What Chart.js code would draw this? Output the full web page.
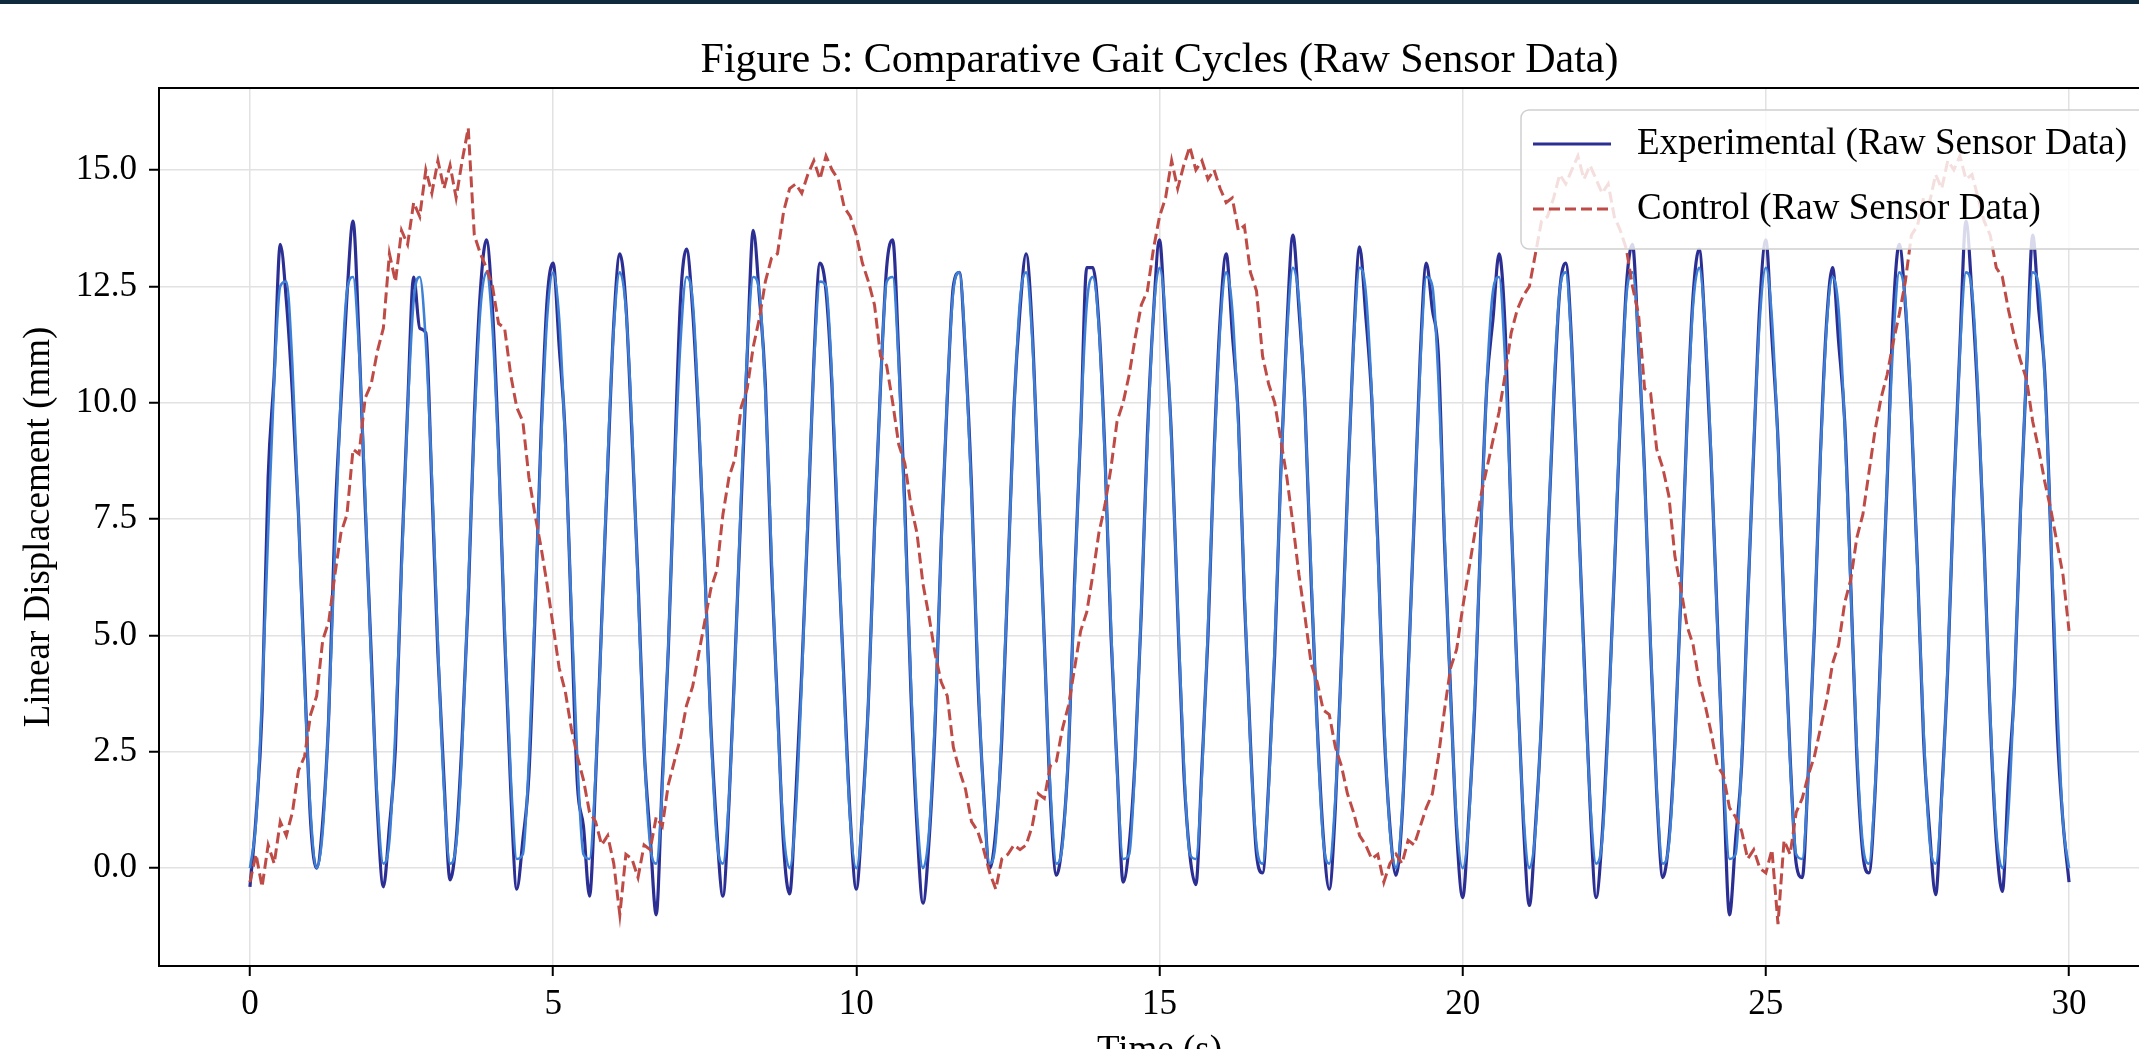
<!DOCTYPE html>
<html>
<head>
<meta charset="utf-8">
<title>Figure 5: Comparative Gait Cycles</title>
<script src="https://cdn.jsdelivr.net/npm/chart.js@4.4.1/dist/chart.umd.min.js"></script>
<style>
    html, body { margin: 0; padding: 0; background: #ffffff; overflow: hidden; }
    #top-band { position: absolute; left: 0; top: 0; width: 2200px; height: 4px; background: #0e2a3c; z-index: 2; }
    #chart-wrap { position: absolute; left: 0; top: 0; width: 2200px; height: 1100px; }
</style>
</head>
<body>
<div id="top-band"></div>
<div id="chart-wrap"><canvas id="gaitChart" width="2200" height="1100"></canvas></div>

<script>
// --- 1. DATA ---
const SAMPLE_STEP = 0.1;   // seconds between samples
const SAMPLE_COUNT = 301;  // 0.0 .. 30.0 s
const timeSec = Array.from({ length: SAMPLE_COUNT }, (_, i) => +(i * SAMPLE_STEP).toFixed(1));

const experimentalRaw = [
    -0.4, 1.1, 3.4, 8.4, 10.6, 13.4, 12.2, 10.2, 7.6, 4.2,
    1.0, 0.0, 1.0, 3.3, 7.4, 10.0, 12.3, 13.9, 11.3, 7.8,
    4.6, 1.3, -0.4, 0.9, 2.6, 6.6, 9.9, 12.7, 11.6, 11.5,
    8.2, 4.6, 1.9, -0.25, 0.6, 2.8, 5.8, 9.7, 12.4, 13.5,
    12.0, 9.0, 5.0, 1.7, -0.45, 0.6, 2.0, 5.4, 9.3, 12.2,
    13.0, 11.2, 9.3, 5.4, 1.8, 0.9, -0.6, 1.9, 5.3, 8.6,
    11.7, 13.2, 12.1, 9.3, 6.2, 2.6, 0.7, -1.0, 1.9, 4.7,
    8.6, 12.2, 13.3, 12.0, 9.6, 6.5, 3.1, 0.8, -0.6, 1.4,
    4.5, 7.8, 11.0, 13.7, 12.3, 10.4, 6.5, 3.5, 0.5, -0.55,
    1.5, 4.2, 7.4, 10.9, 13.0, 12.4, 10.3, 6.9, 3.9, 1.1,
    -0.45, 1.2, 3.6, 7.3, 10.4, 12.9, 13.5, 11.0, 7.8, 3.8,
    0.9, -0.75, 0.6, 3.1, 7.0, 10.1, 12.5, 12.8, 11.0, 8.2,
    4.2, 1.6, 0.0, 0.8, 2.8, 6.3, 9.9, 12.0, 13.2, 11.6,
    8.3, 4.9, 1.5, -0.15, 0.6, 2.5, 6.2, 9.4, 12.9, 12.9,
    11.7, 8.9, 5.0, 2.2, -0.3, 0.5, 2.4, 5.5, 9.3, 11.9,
    13.5, 11.5, 9.2, 5.5, 2.1, 0.3, -0.35, 2.2, 5.0, 8.9,
    11.8, 13.2, 11.5, 9.7, 5.8, 2.7, 0.3, -0.1, 1.8, 4.6,
    8.5, 11.6, 13.6, 12.0, 9.9, 6.2, 3.1, 0.7, -0.45, 1.3,
    4.5, 8.1, 11.3, 13.35, 11.9, 10.1, 7.0, 3.1, 0.9, -0.15,
    1.1, 4.2, 7.5, 11.0, 13.0, 12.0, 11.0, 7.0, 3.8, 0.8,
    -0.63, 1.1, 3.5, 7.3, 10.4, 11.8, 13.2, 11.6, 7.5, 4.1,
    1.0, -0.8, 0.9, 3.2, 6.9, 10.0, 12.4, 13.0, 11.2, 7.9,
    4.6, 1.4, -0.63, 0.7, 3.2, 6.3, 9.7, 12.5, 13.4, 11.2,
    8.5, 4.7, 1.6, -0.2, 0.6, 2.7, 5.9, 9.6, 12.3, 13.3,
    11.5, 8.7, 5.3, 1.9, -1.0, 0.6, 2.2, 5.7, 9.0, 12.1,
    13.5, 11.4, 9.2, 5.5, 2.4, 0.1, -0.2, 2.1, 5.1, 8.9,
    11.7, 12.9, 11.3, 9.6, 6.1, 2.4, 0.3, -0.1, 1.6, 4.9,
    8.3, 11.9, 13.4, 12.1, 9.7, 6.5, 2.8, 0.8, -0.57, 1.6,
    4.3, 8.1, 11.2, 13.9, 12.3, 10.0, 6.9, 3.2, 0.6, -0.5,
    1.9, 3.9, 7.7, 10.7, 13.6, 12.0, 10.6, 7.1, 3.1, 1.0,
    -0.3
];

// lighter trace that follows the experimental signal
const experimentalSmooth = [
    0.0, 1.0, 3.7, 7.2, 10.5, 12.5, 12.6, 10.8, 7.6, 4.0,
    1.2, 0.0, 0.8, 3.3, 6.8, 10.2, 12.4, 12.7, 11.1, 8.0,
    4.4, 1.5, 0.1, 0.6, 3.0, 6.4, 9.8, 12.2, 12.7, 11.3,
    8.4, 4.8, 1.7, 0.1, 0.5, 2.6, 6.0, 9.5, 12.0, 12.8,
    11.6, 8.8, 5.2, 2.0, 0.2, 0.3, 2.3, 5.6, 9.1, 11.8,
    12.8, 11.8, 9.1, 5.6, 2.3, 0.3, 0.2, 2.0, 5.2, 8.8,
    11.6, 12.8, 12.0, 9.5, 6.0, 2.6, 0.5, 0.1, 1.7, 4.8,
    8.4, 11.3, 12.7, 12.2, 9.8, 6.4, 3.0, 0.6, 0.1, 1.5,
    4.4, 8.0, 11.1, 12.7, 12.4, 10.2, 6.8, 3.3, 0.8, 0.0,
    1.2, 4.0, 7.6, 10.8, 12.6, 12.5, 10.5, 7.2, 3.7, 1.0,
    0.0, 1.1, 3.6, 7.2, 10.4, 12.6, 12.7, 10.8, 7.5, 4.0,
    1.2, 0.0, 0.8, 3.3, 6.9, 10.2, 12.4, 12.8, 11.1, 8.0,
    4.4, 1.5, 0.1, 0.6, 3.0, 6.3, 9.8, 12.2, 12.8, 11.4,
    8.4, 4.8, 1.7, 0.1, 0.5, 2.6, 6.0, 9.5, 12.1, 12.7,
    11.6, 8.8, 5.2, 2.1, 0.2, 0.3, 2.3, 5.6, 9.1, 11.9,
    12.9, 11.8, 9.1, 5.6, 2.3, 0.3, 0.2, 2.0, 5.2, 8.8,
    11.6, 12.8, 12.0, 9.5, 6.0, 2.6, 0.5, 0.1, 1.7, 4.8,
    8.4, 11.4, 12.9, 12.2, 9.8, 6.4, 3.0, 0.6, 0.1, 1.5,
    4.4, 8.0, 11.2, 12.9, 12.4, 10.2, 6.8, 3.3, 0.8, 0.0,
    1.2, 4.0, 7.6, 10.8, 12.7, 12.5, 10.5, 7.2, 3.7, 1.0,
    0.0, 1.0, 3.7, 7.2, 10.5, 12.4, 12.7, 10.9, 7.6, 4.0,
    1.2, 0.0, 0.8, 3.3, 6.8, 10.2, 12.4, 12.8, 11.1, 8.0,
    4.4, 1.5, 0.1, 0.6, 3.0, 6.4, 9.8, 12.3, 12.8, 11.3,
    8.4, 4.8, 1.7, 0.1, 0.5, 2.6, 6.0, 9.5, 12.1, 12.9,
    11.6, 8.8, 5.2, 2.0, 0.2, 0.3, 2.3, 5.6, 9.1, 11.8,
    12.9, 11.8, 9.1, 5.6, 2.3, 0.3, 0.2, 2.0, 5.2, 8.8,
    11.6, 12.7, 12.0, 9.5, 6.0, 2.6, 0.5, 0.1, 1.7, 4.8,
    8.4, 11.3, 12.8, 12.2, 9.8, 6.4, 3.0, 0.6, 0.1, 1.5,
    4.4, 8.0, 11.1, 12.8, 12.4, 10.2, 6.8, 3.3, 0.8, 0.0,
    1.2, 4.0, 7.6, 10.8, 12.8, 12.5, 10.5, 7.2, 3.7, 1.0,
    0.0
];

const controlRaw = [
    -0.3, 0.3, -0.4, 0.5, 0.1, 1.0, 0.7, 1.2, 2.1, 2.4,
    3.3, 3.7, 4.9, 5.3, 6.3, 7.2, 7.6, 9.0, 8.9, 10.1,
    10.4, 11.1, 11.6, 13.2, 12.6, 13.7, 13.4, 14.3, 14.0, 15.0,
    14.5, 15.2, 14.6, 15.1, 14.4, 15.2, 15.9, 13.6, 13.2, 12.9,
    12.5, 11.7, 11.6, 10.6, 9.9, 9.6, 8.4, 7.6, 6.9, 6.1,
    5.2, 4.3, 3.8, 3.0, 2.4, 1.9, 1.2, 1.0, 0.5, 0.7,
    0.1, -1.0, 0.3, 0.2, -0.2, 0.5, 0.4, 1.1, 0.9, 1.8,
    2.3, 2.8, 3.5, 3.9, 4.6, 5.3, 6.0, 6.4, 7.6, 8.4,
    8.8, 9.9, 10.3, 11.2, 11.8, 12.6, 13.1, 13.2, 14.1, 14.6,
    14.7, 14.5, 14.9, 15.2, 14.8, 15.3, 15.0, 14.8, 14.2, 14.0,
    13.6, 13.0, 12.6, 12.1, 11.0, 10.8, 10.0, 9.1, 8.7, 7.8,
    7.2, 6.1, 5.4, 4.6, 4.0, 3.7, 2.6, 2.1, 1.7, 1.0,
    0.8, 0.4, -0.1, -0.45, 0.2, 0.3, 0.5, 0.4, 0.5, 0.9,
    1.6, 1.5, 2.2, 2.3, 3.0, 3.5, 4.3, 5.1, 5.5, 6.3,
    7.2, 7.8, 8.6, 9.6, 10.0, 10.6, 11.4, 12.1, 12.4, 13.3,
    14.0, 14.4, 15.2, 14.6, 15.1, 15.5, 15.0, 15.2, 14.8, 15.0,
    14.6, 14.3, 14.4, 13.7, 13.8, 12.8, 12.4, 11.0, 10.4, 10.0,
    9.2, 8.4, 7.4, 6.3, 5.4, 4.4, 4.0, 3.4, 3.3, 2.6,
    2.2, 1.6, 1.2, 0.7, 0.5, 0.2, 0.3, -0.3, 0.1, 0.3,
    0.1, 0.6, 0.5, 0.9, 1.3, 1.6, 2.4, 3.4, 4.3, 4.7,
    5.6, 6.4, 7.2, 8.0, 8.6, 9.2, 9.8, 10.6, 11.5, 12.0,
    12.3, 12.5, 13.2, 13.9, 14.0, 14.4, 14.9, 14.7, 15.0, 15.3,
    14.8, 15.1, 14.8, 14.5, 14.7, 14.0, 13.7, 13.3, 12.5, 11.9,
    10.3, 10.2, 9.0, 8.6, 8.0, 6.7, 6.0, 5.2, 4.8, 4.0,
    3.5, 2.9, 2.2, 2.0, 1.3, 1.1, 0.8, 0.2, 0.4, 0.0,
    -0.1, 0.4, -1.2, 0.6, 0.3, 1.2, 1.5, 2.0, 2.4, 3.0,
    3.6, 4.4, 4.8, 5.7, 6.2, 7.1, 7.6, 8.5, 9.4, 10.1,
    10.6, 11.3, 11.9, 12.6, 13.6, 13.8, 14.4, 14.3, 14.9, 14.6,
    15.2, 15.0, 15.3, 14.8, 14.9, 14.4, 13.9, 13.6, 12.9, 12.7,
    12.0, 11.4, 10.9, 10.5, 9.6, 9.0, 8.3, 7.7, 7.0, 6.3,
    5.1
];

const xTickValues = [0, 5, 10, 15, 20, 25, 30];
const yTickValues = [0, 2.5, 5, 7.5, 10, 12.5, 15];

const CHART_TITLE = 'Figure 5: Comparative Gait Cycles (Raw Sensor Data)';
const X_LABEL = 'Time (s)';
const Y_LABEL = 'Linear Displacement (mm)';

// --- 2. STYLE ---
const FONT_FAMILY = "'Liberation Serif', 'Times New Roman', Times, serif";
const NAVY = '#2b2e92';
const LIGHT_BLUE = '#3d80d6';
const BRICK_RED = '#bf4b47';

Chart.defaults.font.family = FONT_FAMILY;
Chart.defaults.font.size = 35;
Chart.defaults.color = '#000000';

function toPoints(values) {
    return values.map((v, i) => ({ x: timeSec[i], y: v }));
}

// --- 3. PLUGINS (title, frame, legend box) ---
const figureDecor = {
    id: 'figureDecor',
    afterDraw(chart) {
        const { ctx, chartArea } = chart;
        ctx.save();

        // title centred over the axes
        ctx.font = `42px ${FONT_FAMILY}`;
        ctx.fillStyle = '#000';
        ctx.textAlign = 'center';
        ctx.textBaseline = 'middle';
        ctx.fillText(CHART_TITLE, (chartArea.left + chartArea.right) / 2, 61);

        // axes frame
        ctx.strokeStyle = '#000';
        ctx.lineWidth = 2;
        ctx.strokeRect(chartArea.left, chartArea.top, chartArea.right - chartArea.left, chartArea.bottom - chartArea.top);

        // legend box
        const boxX = 1521, boxY = 110, boxW = 800, boxH = 139;
        ctx.beginPath();
        ctx.roundRect(boxX, boxY, boxW, boxH, 8);
        ctx.fillStyle = 'rgba(255,255,255,0.82)';
        ctx.fill();
        ctx.strokeStyle = '#cfcfcf';
        ctx.lineWidth = 1.5;
        ctx.stroke();

        const entries = chart.data.datasets.filter(d => d.inLegend);
        entries.sort((a, b) => a.legendIndex - b.legendIndex);
        ctx.font = `37px ${FONT_FAMILY}`;
        entries.forEach((ds, i) => {
            const y = 144 + i * 65;
            ctx.beginPath();
            ctx.setLineDash(ds.borderDash || []);
            ctx.strokeStyle = ds.borderColor;
            ctx.lineWidth = ds.borderWidth;
            ctx.moveTo(1533, y);
            ctx.lineTo(1611, y);
            ctx.stroke();
            ctx.setLineDash([]);
            ctx.fillStyle = '#000';
            ctx.textAlign = 'left';
            ctx.textBaseline = 'middle';
            ctx.fillText(ds.label, 1637, y);
        });
        ctx.restore();
    }
};

// --- 4. CHART ---
const ctx = document.getElementById('gaitChart');

new Chart(ctx, {
    type: 'line',
    data: {
        datasets: [
            {
                label: 'Control (Raw Sensor Data)',
                data: toPoints(controlRaw),
                borderColor: BRICK_RED,
                borderWidth: 3,
                borderDash: [11, 5],
                pointRadius: 0,
                tension: 0,
                order: 0,
                inLegend: true,
                legendIndex: 1
            },
            {
                label: 'Experimental (trace)',
                data: toPoints(experimentalSmooth),
                borderColor: LIGHT_BLUE,
                borderWidth: 2.6,
                pointRadius: 0,
                cubicInterpolationMode: 'monotone',
                order: 1,
                inLegend: false
            },
            {
                label: 'Experimental (Raw Sensor Data)',
                data: toPoints(experimentalRaw),
                borderColor: NAVY,
                borderWidth: 3.2,
                pointRadius: 0,
                cubicInterpolationMode: 'monotone',
                order: 2,
                inLegend: true,
                legendIndex: 0
            }
        ]
    },
    options: {
        responsive: false,
        devicePixelRatio: 1,
        animation: false,
        layout: { padding: { top: 88, right: 40, left: 0, bottom: 0 } },
        plugins: {
            legend: { display: false },
            tooltip: { enabled: false },
            title: { display: false }
        },
        scales: {
            x: {
                type: 'linear',
                min: -1.5,
                max: 31.5,
                afterFit: s => { s.height = 134; },
                afterBuildTicks: s => { s.ticks = xTickValues.map(v => ({ value: v })); },
                ticks: {
                    padding: 8,
                    callback: v => String(v)
                },
                grid: { color: '#e2e2e2', lineWidth: 1.5, tickColor: '#000', tickLength: 10, tickWidth: 2 },
                border: { display: false },
                title: { display: true, text: X_LABEL, font: { size: 37 }, padding: { top: 0, bottom: 27 } }
            },
            y: {
                type: 'linear',
                min: -2.1,
                max: 16.76,
                afterFit: s => { s.width = 159; },
                afterBuildTicks: s => { s.ticks = yTickValues.map(v => ({ value: v })); },
                ticks: {
                    padding: 12,
                    callback: v => Number(v).toFixed(1)
                },
                grid: { color: '#e2e2e2', lineWidth: 1.5, tickColor: '#000', tickLength: 10, tickWidth: 2 },
                border: { display: false },
                title: { display: true, text: Y_LABEL, font: { size: 37 }, padding: { top: 17, bottom: 0 } }
            }
        }
    },
    plugins: [figureDecor]
});
</script>
</body>
</html>
